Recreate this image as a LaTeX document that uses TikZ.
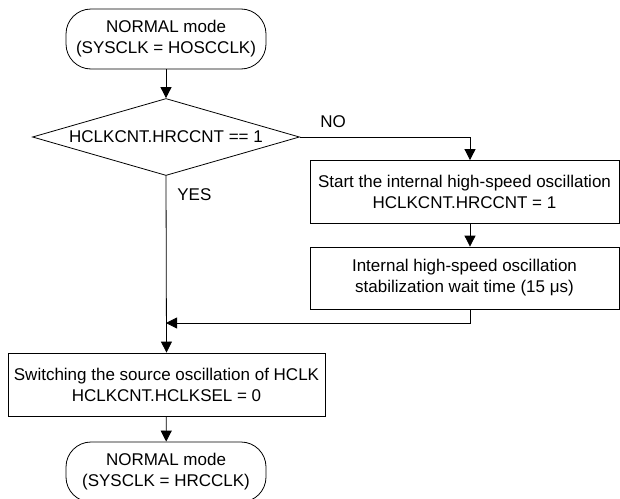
\documentclass[tikz,border=0pt]{standalone}
\usepackage{fontspec}
\setmainfont{Liberation Sans}
\usetikzlibrary{positioning, arrows.meta, shapes.geometric}

\begin{document}
\begin{tikzpicture}[x=1pt, y=-1pt,
      font=\fontsize{17}{21}\selectfont,
      line width=0.8pt,
      terminal/.style={draw, rounded corners=25pt, minimum width=200pt, minimum height=60pt, align=center, inner sep=0pt},
      decision/.style={draw, diamond, aspect=3.4, minimum width=267pt, minimum height=77pt, inner sep=0pt, align=center},
      process/.style={draw, minimum height=63pt, align=center, inner sep=2pt},
      label/.style={anchor=west, inner sep=0pt},
      arrow/.style={-{Triangle[width=11pt, length=11pt]}}
    ]
    \clip (0,0) rectangle (620,498);

    % Main column (Left)
    \node[terminal] (start) at (166,39) {NORMAL mode \\ (SYSCLK = HOSCCLK)};
    \node[decision] (check) at (166,137) {HCLKCNT.HRCCNT == 1};
    \node[process, minimum width=317pt] (switch) at (166.5,384.5) {Switching the source oscillation of HCLK \\ HCLKCNT.HCLKSEL = 0};
    \node[terminal] (finish) at (166,472) {NORMAL mode \\ (SYSCLK = HRCCLK)};

    % NO branch (Right)
    \node[process, minimum width=309pt] (hrcon) at (464.5,192) {Start the internal high-speed oscillation \\ HCLKCNT.HRCCNT = 1};
    \node[process, minimum width=309pt, minimum height=62pt] (wait) at (464.5,278) {Internal high-speed oscillation \\ stabilization wait time (15 μs)};

    % Branch labels
    \node[label] (yes) at (177,195) {YES};
    \node[label] (no) at (320,122) {NO};

    \coordinate (rcol) at (470,0);
    \coordinate (merge) at (166,323);

    % Main flow
    \draw[arrow] (start) -- (check);
    \draw[arrow] (check.south) -- (switch.north);
    \draw[arrow] (switch) -- (finish);

    % NO flow
    \draw[arrow] (check.east) -| (rcol |- hrcon.north);
    \draw[arrow] (rcol |- hrcon.south) -- (rcol |- wait.north);
    \draw[arrow] (rcol |- wait.south) |- (merge);

  \end{tikzpicture}
\end{document}
